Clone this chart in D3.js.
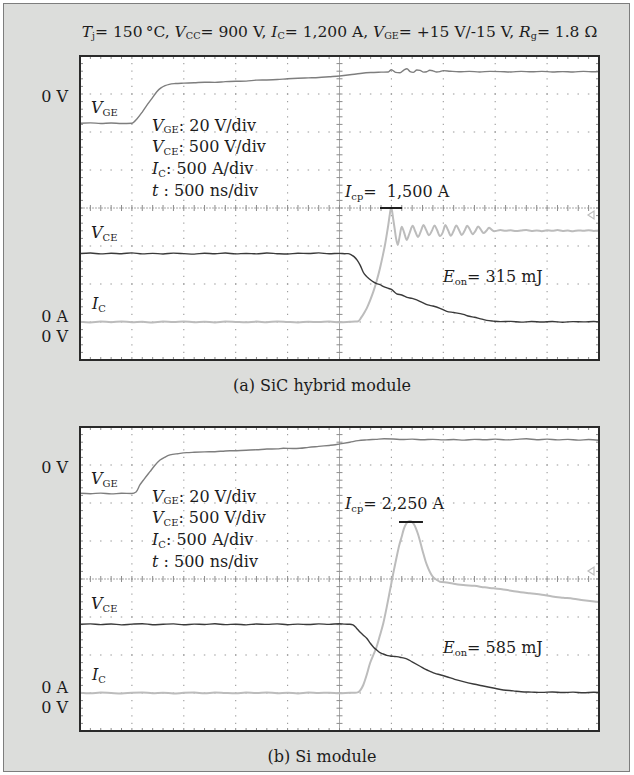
<!DOCTYPE html>
<html><head><meta charset="utf-8">
<script src="https://cdn.jsdelivr.net/npm/d3@7/dist/d3.min.js"></script>
<style>
html,body{margin:0;padding:0;background:#ffffff;}
svg{display:block;}
text{font-family:"DejaVu Serif",serif;fill:#1c1c1c;white-space:pre;}
</style></head><body>
<svg id="chart" width="634" height="775"></svg>
<script>
// ---------- DATA (time in ns, VGE in V, VCE in V, IC in A) ----------
const timeDivs = [-2500, 2500];          // 500 ns/div, 10 div
const vgeScaleDiv = 20, vceScaleDiv = 500, icScaleDiv = 500;

// (a) SiC hybrid module
const vgeA = [[-2500,-15.4],[-2400,-15.2],[-2300,-15.5],[-2200,-15.3],[-2100,-15.5],[-2000,-15.4],[-1950,-13],[-1900,-9.5],[-1850,-5.5],[-1800,-1.8],[-1760,1.2],[-1720,3.2],[-1680,4.4],[-1640,5.1],[-1580,5.5],[-1500,5.7],[-1400,5.9],[-1300,6.2],[-1200,6.1],[-1100,6.5],[-1000,6.7],[-900,6.8],[-800,7.3],[-700,7.4],[-600,7.6],[-500,8.0],[-400,8.3],[-300,8.5],[-200,8.7],[-100,9.1],[0,9.5],[100,10.1],[200,10.8],[300,11.3],[400,11.5],[470,11.6],[500,12.8],[540,11.4],[583,11.2],[620,12.6],[650,13.3],[680,11.8],[710,11.4],[745,12.6],[776,12.4],[810,11.5],[840,11.7],[870,12.5],[901,12.2],[935,11.6],[968,11.8],[1000,12.3],[1065,12.0],[1150,11.7],[1250,11.9],[1350,11.6],[1450,11.9],[1550,11.8],[1650,11.6],[1750,11.9],[1850,11.7],[1950,11.9],[2050,11.6],[2150,11.8],[2250,11.6],[2350,11.9],[2450,11.7],[2500,11.8]];
const vceA = [[-2500,901],[-2400,908],[-2300,896],[-2200,904],[-2100,899],[-2000,910],[-1900,897],[-1800,903],[-1700,895],[-1600,906],[-1500,900],[-1400,893],[-1300,905],[-1200,899],[-1100,908],[-1000,896],[-900,902],[-800,897],[-700,907],[-600,899],[-500,894],[-400,905],[-300,901],[-200,909],[-100,898],[0,903],[50,899],[82,900],[110,888],[140,860],[170,815],[200,745],[229,655],[260,600],[294,560],[330,525],[358,505],[390,492],[420,470],[458,448],[500,428],[551,370],[600,355],[650,325],[700,310],[744,290],[800,255],[850,225],[900,210],[968,180],[1033,140],[1100,125],[1193,100],[1250,75],[1300,62],[1350,45],[1418,22],[1480,12],[1550,5],[1650,8],[1750,-2],[1850,6],[1950,0],[2050,7],[2150,-3],[2250,5],[2350,1],[2450,6],[2500,2]];
const icA = [[-2500,3],[-2400,-5],[-2300,6],[-2200,-2],[-2100,8],[-2000,-4],[-1900,2],[-1800,-6],[-1700,5],[-1600,0],[-1500,7],[-1400,-3],[-1300,4],[-1200,-5],[-1100,6],[-1000,1],[-900,-4],[-800,5],[-700,-2],[-600,7],[-500,0],[-400,-5],[-300,4],[-200,-1],[-100,6],[0,-3],[100,2],[150,5],[181,10],[210,60],[240,125],[262,180],[295,285],[326,399],[358,540],[390,707],[415,860],[438,1013],[455,1150],[470,1276],[485,1420],[496,1500],[505,1470],[518,1350],[530,1240],[545,1100],[561,1013],[580,1130],[599,1254],[622,1180],[647,1080],[675,1170],[705,1265],[730,1190],[757,1120],[785,1200],[810,1275],[835,1210],[862,1140],[890,1200],[915,1270],[940,1210],[967,1130],[995,1180],[1020,1275],[1045,1210],[1072,1135],[1100,1200],[1125,1270],[1150,1215],[1177,1145],[1205,1200],[1230,1265],[1255,1220],[1282,1155],[1310,1200],[1335,1255],[1360,1220],[1387,1170],[1415,1200],[1440,1240],[1465,1215],[1490,1195],[1550,1210],[1600,1200],[1650,1207],[1700,1196],[1750,1203],[1800,1210],[1850,1199],[1900,1204],[1950,1195],[2000,1206],[2050,1200],[2100,1209],[2150,1197],[2200,1203],[2250,1194],[2300,1205],[2350,1200],[2400,1208],[2450,1198],[2500,1203]];
const icpA = {value: 1500, t0: 390, t1: 602, label: "1,500 A"};
const eonA = "315 mJ";

// (b) Si module
const vgeB = [[-2500,-14.9],[-2400,-15.1],[-2300,-14.8],[-2200,-15.2],[-2100,-14.9],[-2000,-15.0],[-1960,-14.2],[-1923,-10.5],[-1880,-7.3],[-1826,-3.5],[-1780,-0.3],[-1729,2.6],[-1680,4.2],[-1633,5.3],[-1550,6.0],[-1472,6.5],[-1400,6.7],[-1300,6.9],[-1200,7.0],[-1100,7.4],[-1023,7.5],[-900,7.8],[-800,8.0],[-700,8.4],[-600,8.5],[-541,8.8],[-450,8.7],[-381,8.8],[-300,9.3],[-200,9.8],[-100,10.3],[-60,10.5],[5,11.1],[100,12.0],[180,12.8],[262,13.2],[350,13.5],[430,13.8],[518,13.7],[600,13.4],[700,13.6],[800,13.3],[900,13.5],[1000,13.2],[1100,13.4],[1200,13.1],[1300,13.5],[1400,13.3],[1500,13.6],[1600,13.2],[1700,13.5],[1800,13.8],[1900,13.3],[2000,13.6],[2100,13.2],[2200,13.5],[2300,13.1],[2400,13.4],[2500,13.0]];
const vceB = [[-2500,905],[-2400,910],[-2300,900],[-2200,908],[-2100,897],[-2000,906],[-1900,912],[-1800,899],[-1700,904],[-1600,909],[-1500,898],[-1400,906],[-1300,902],[-1200,911],[-1100,900],[-1000,905],[-900,897],[-800,908],[-700,903],[-600,910],[-500,899],[-400,906],[-300,901],[-200,909],[-100,903],[0,912],[50,906],[100,904],[130,895],[160,860],[197,803],[230,760],[262,720],[294,660],[330,600],[358,566],[390,530],[422,513],[455,495],[487,487],[520,482],[551,478],[600,465],[647,450],[700,410],[776,352],[830,310],[872,285],[920,258],[968,240],[1033,214],[1110,180],[1193,149],[1290,118],[1385,92],[1482,66],[1578,40],[1674,28],[1750,17],[1850,12],[1950,8],[2050,14],[2150,6],[2250,11],[2350,4],[2450,10],[2500,7]];
const icB = [[-2500,4],[-2400,-3],[-2300,6],[-2200,0],[-2100,-5],[-2000,3],[-1900,7],[-1800,-2],[-1700,4],[-1600,-6],[-1500,2],[-1400,5],[-1300,-3],[-1200,6],[-1100,0],[-1000,-4],[-900,5],[-800,-1],[-700,7],[-600,-3],[-500,3],[-400,-5],[-300,6],[-200,0],[-100,4],[0,-3],[100,3],[150,4],[181,12],[205,45],[229,105],[260,230],[294,391],[326,500],[358,609],[390,760],[422,917],[455,1130],[487,1355],[518,1575],[551,1793],[575,1940],[599,2057],[620,2160],[641,2225],[660,2255],[679,2262],[698,2252],[717,2220],[738,2160],[759,2079],[783,1960],[807,1838],[830,1730],[855,1641],[880,1570],[904,1522],[935,1490],[968,1464],[1050,1452],[1100,1438],[1193,1421],[1300,1410],[1400,1390],[1482,1378],[1600,1358],[1700,1336],[1835,1312],[1950,1293],[2050,1270],[2156,1254],[2250,1241],[2350,1220],[2478,1201],[2500,1198]];
const icpB = {value: 2250, t0: 573, t1: 804, label: "2,250 A"};
const eonB = "585 mJ";

const infoLines = [
  [["V","i"],["GE","s"],[": 20 V/div","n"]],
  [["V","i"],["CE","s"],[": 500 V/div","n"]],
  [["I","i"],["C","s"],[": 500 A/div","n"]],
  [["t","i"],[" : 500 ns/div","n"]]
];
const titleParts = [["T","i"],["j","s"],["= 150\u2009\u00b0C, ","n"],["V","i"],["CC","s"],["= 900 V, ","n"],["I","i"],["C","s"],["= 1,200 A, ","n"],["V","i"],["GE","s"],["= +15 V/-15 V, ","n"],["R","i"],["g","s"],["= 1.8 \u03a9","n"]];
const captions = ["(a) SiC hybrid module", "(b) Si module"];

// ---------- LAYOUT ----------
const W = 519, H = 304, LEFT = 80;
const FS = 16;
const svg = d3.select("#chart");
svg.append("rect").attr("width",634).attr("height",775).attr("fill","#ffffff");
svg.append("rect").attr("x",3.5).attr("y",3.5).attr("width",626).attr("height",768)
   .attr("fill","#dcdddb").attr("stroke","#7d7d7d").attr("stroke-width",1);

function rich(g, x, y, parts, size, anchor){
  const t = g.append("text").attr("x",x).attr("y",y).attr("font-size",size)
             .attr("text-anchor",anchor||"start");
  let shifted = false;
  const dyv = size*0.16;
  parts.forEach(([s,k])=>{
    const ts = t.append("tspan").text(s);
    if(k==="s"){ ts.attr("font-size",size*0.62); if(!shifted){ts.attr("dy",dyv); shifted=true;} }
    else { if(shifted){ts.attr("dy",-dyv); shifted=false;} if(k==="i") ts.attr("font-style","italic"); }
  });
  return t;
}

// title
rich(svg, LEFT + W/2, 37, titleParts, 15.5, "middle");

const x = d3.scaleLinear().domain(timeDivs).range([0,W]);
const yDiv = d3.scaleLinear().domain([0,8]).range([0,H]);
const yV = d3.scaleLinear().domain([vgeScaleDiv*1, vgeScaleDiv*-7]).range([0,H]);   // 0 V at 1 div from top
const yC = d3.scaleLinear().domain([vceScaleDiv*7, vceScaleDiv*-1]).range([0,H]);   // 0 V / 0 A at 7 div

const panels = [
  {top:56, vge:vgeA, vce:vceA, ic:icA, icp:icpA, eon:eonA, cap:captions[0], icpBase:141, trig:159},
  {top:427, vge:vgeB, vce:vceB, ic:icB, icp:icpB, eon:eonB, cap:captions[1], icpBase:82, trig:144}
];

panels.forEach((p,pi)=>{
  const g = svg.append("g").attr("transform",`translate(${LEFT},${p.top})`);
  g.append("rect").attr("width",W).attr("height",H).attr("fill","#ffffff");
  const cid = "clip"+pi;
  g.append("clipPath").attr("id",cid).append("rect").attr("width",W).attr("height",H);

  const xt = x.ticks(10), yt = yDiv.ticks(8);
  const minX = W/50, minY = H/40;
  // dotted grid
  xt.filter(t=>t>timeDivs[0] && t<timeDivs[1] && t!==0).forEach(t=>{
    g.append("line").attr("x1",x(t)).attr("x2",x(t)).attr("y1",0).attr("y2",H)
     .attr("stroke","#9a9a9a").attr("stroke-width",1.1)
     .attr("stroke-dasharray",`1.3 ${minY-1.3}`).attr("stroke-dashoffset",0.65);
  });
  yt.filter(d=>d>0 && d<8 && d!==4).forEach(d=>{
    g.append("line").attr("y1",yDiv(d)).attr("y2",yDiv(d)).attr("x1",0).attr("x2",W)
     .attr("stroke","#9a9a9a").attr("stroke-width",1.1)
     .attr("stroke-dasharray",`1.5 ${minX-1.5}`).attr("stroke-dashoffset",0.75);
  });
  // centre axes with minor ticks
  const cx = x(0), cy = yDiv(4);
  g.append("line").attr("x1",cx).attr("x2",cx).attr("y1",0).attr("y2",H).attr("stroke","#a8a8a8").attr("stroke-width",1);
  g.append("line").attr("x1",0).attr("x2",W).attr("y1",cy).attr("y2",cy).attr("stroke","#a8a8a8").attr("stroke-width",1)
   .attr("stroke-dasharray","2 1");
  const xm = d3.range(1,50), ym = d3.range(1,40);
  g.selectAll(null).data(xm).join("line")
    .attr("x1",i=>i*minX).attr("x2",i=>i*minX).attr("y1",cy-3).attr("y2",cy+3).attr("stroke","#8c8c8c").attr("stroke-width",1);
  g.selectAll(null).data(ym).join("line")
    .attr("y1",i=>i*minY).attr("y2",i=>i*minY).attr("x1",cx-3).attr("x2",cx+3).attr("stroke","#8c8c8c").attr("stroke-width",1);
  // edge ticks
  g.selectAll(null).data(xm).join("line")
    .attr("x1",i=>i*minX).attr("x2",i=>i*minX).attr("y1",0).attr("y2",3).attr("stroke","#8c8c8c");
  g.selectAll(null).data(xm).join("line")
    .attr("x1",i=>i*minX).attr("x2",i=>i*minX).attr("y1",H-3).attr("y2",H).attr("stroke","#8c8c8c");
  g.selectAll(null).data(ym).join("line")
    .attr("y1",i=>i*minY).attr("y2",i=>i*minY).attr("x1",0).attr("x2",3).attr("stroke","#8c8c8c");
  g.selectAll(null).data(ym).join("line")
    .attr("y1",i=>i*minY).attr("y2",i=>i*minY).attr("x1",W-3).attr("x2",W).attr("stroke","#8c8c8c");

  // trigger marker
  g.append("path").attr("d",`M${W-11},${p.trig} L${W-5},${p.trig-4} L${W-5},${p.trig+4} Z`)
   .attr("fill","none").attr("stroke","#bdbdbd").attr("stroke-width",1.2);

  // traces
  const tr = g.append("g").attr("clip-path",`url(#${cid})`);
  const lineC = d3.line().x(d=>x(d[0])).y(d=>yC(d[1])).curve(d3.curveMonotoneX);
  const lineV = d3.line().x(d=>x(d[0])).y(d=>yV(d[1])).curve(d3.curveMonotoneX);
  tr.append("path").attr("d",lineC(p.ic)).attr("fill","none").attr("stroke","#bcbcbc").attr("stroke-width",2);
  tr.append("path").attr("d",lineV(p.vge)).attr("fill","none").attr("stroke","#7e7e7e").attr("stroke-width",1.4);
  tr.append("path").attr("d",lineC(p.vce)).attr("fill","none").attr("stroke","#3a3a3a").attr("stroke-width",1.4);

  // Icp marker
  g.append("line").attr("x1",x(p.icp.t0)).attr("x2",x(p.icp.t1)).attr("y1",yC(p.icp.value)).attr("y2",yC(p.icp.value))
   .attr("stroke","#1e1e1e").attr("stroke-width",2);

  g.append("rect").attr("width",W).attr("height",H).attr("fill","none").attr("stroke","#2a2a2a").attr("stroke-width",2);

  // labels inside
  rich(g, 11, 57, [["V","i"],["GE","s"]], FS);
  infoLines.forEach((ln,i)=> rich(g, 72, [74.5,96,118,139.5][i], ln, FS));
  rich(g, 265, p.icpBase, [["I","i"],["cp","s"],["= "+(pi===0?" ":"")+p.icp.label,"n"]], FS);
  rich(g, 11, 182, [["V","i"],["CE","s"]], FS);
  rich(g, 12, 253, [["I","i"],["C","s"]], FS);
  rich(g, 363, 226, [["E","i"],["on","s"],["= "+p.eon,"n"]], FS);

  // outside labels
  rich(svg, 68, p.top+45.5, [["0 V","n"]], FS, "end");
  rich(svg, 68, p.top+265.5, [["0 A","n"]], FS, "end");
  rich(svg, 68, p.top+285.5, [["0 V","n"]], FS, "end");
  rich(svg, 322, p.top+H+31, [[p.cap,"n"]], FS, "middle");
});
</script>
</body></html>
